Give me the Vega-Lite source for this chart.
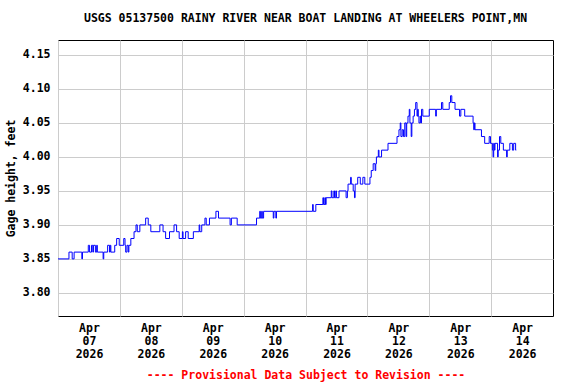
{
  "$schema": "https://vega.github.io/schema/vega-lite/v6.json",
  "width": 495,
  "height": 276,
  "autosize": {"type": "none"},
  "padding": {"left": 58, "top": 40, "right": 23, "bottom": 68},
  "background": "white",
  "config": {
    "font": "DejaVu Sans Mono",
    "view": {"stroke": "black", "strokeWidth": 1},
    "axis": {
      "labelFont": "DejaVu Sans Mono",
      "labelFontWeight": "bold",
      "labelFontSize": 11.5,
      "labelColor": "black",
      "titleFont": "DejaVu Sans Mono",
      "titleFontWeight": "bold",
      "titleFontSize": 11.5,
      "titleColor": "black",
      "gridColor": "#cccccc",
      "gridWidth": 1,
      "gridOpacity": 1,
      "domain": false,
      "ticks": false
    }
  },
  "title": {
    "text": "USGS 05137500 RAINY RIVER NEAR BOAT LANDING AT WHEELERS POINT,MN",
    "font": "DejaVu Sans Mono",
    "fontWeight": "bold",
    "fontSize": 11.5,
    "color": "black",
    "anchor": "middle",
    "offset": 16
  },
  "data": {
    "values": [
      {"t": "2026-04-07T00:00", "v": 3.85},
      {"t": "2026-04-07T04:15", "v": 3.86},
      {"t": "2026-04-07T05:30", "v": 3.85},
      {"t": "2026-04-07T06:15", "v": 3.86},
      {"t": "2026-04-07T09:15", "v": 3.85},
      {"t": "2026-04-07T09:30", "v": 3.86},
      {"t": "2026-04-07T11:45", "v": 3.87},
      {"t": "2026-04-07T12:15", "v": 3.86},
      {"t": "2026-04-07T13:00", "v": 3.87},
      {"t": "2026-04-07T13:30", "v": 3.86},
      {"t": "2026-04-07T13:45", "v": 3.87},
      {"t": "2026-04-07T14:30", "v": 3.86},
      {"t": "2026-04-07T15:00", "v": 3.87},
      {"t": "2026-04-07T15:15", "v": 3.86},
      {"t": "2026-04-07T17:30", "v": 3.85},
      {"t": "2026-04-07T17:45", "v": 3.86},
      {"t": "2026-04-07T19:15", "v": 3.87},
      {"t": "2026-04-07T20:00", "v": 3.86},
      {"t": "2026-04-07T20:15", "v": 3.87},
      {"t": "2026-04-07T20:30", "v": 3.86},
      {"t": "2026-04-07T22:00", "v": 3.87},
      {"t": "2026-04-07T22:45", "v": 3.88},
      {"t": "2026-04-07T23:45", "v": 3.87},
      {"t": "2026-04-08T01:30", "v": 3.88},
      {"t": "2026-04-08T02:00", "v": 3.87},
      {"t": "2026-04-08T02:15", "v": 3.86},
      {"t": "2026-04-08T02:45", "v": 3.87},
      {"t": "2026-04-08T03:15", "v": 3.86},
      {"t": "2026-04-08T03:30", "v": 3.87},
      {"t": "2026-04-08T04:15", "v": 3.88},
      {"t": "2026-04-08T05:30", "v": 3.89},
      {"t": "2026-04-08T06:15", "v": 3.90},
      {"t": "2026-04-08T06:45", "v": 3.89},
      {"t": "2026-04-08T07:45", "v": 3.90},
      {"t": "2026-04-08T10:00", "v": 3.91},
      {"t": "2026-04-08T11:00", "v": 3.90},
      {"t": "2026-04-08T12:00", "v": 3.89},
      {"t": "2026-04-08T15:30", "v": 3.90},
      {"t": "2026-04-08T16:45", "v": 3.89},
      {"t": "2026-04-08T17:45", "v": 3.88},
      {"t": "2026-04-08T19:15", "v": 3.89},
      {"t": "2026-04-08T21:00", "v": 3.90},
      {"t": "2026-04-08T22:00", "v": 3.89},
      {"t": "2026-04-08T23:00", "v": 3.88},
      {"t": "2026-04-09T00:15", "v": 3.89},
      {"t": "2026-04-09T00:30", "v": 3.88},
      {"t": "2026-04-09T01:30", "v": 3.89},
      {"t": "2026-04-09T02:30", "v": 3.88},
      {"t": "2026-04-09T04:30", "v": 3.89},
      {"t": "2026-04-09T06:45", "v": 3.90},
      {"t": "2026-04-09T07:00", "v": 3.89},
      {"t": "2026-04-09T07:45", "v": 3.90},
      {"t": "2026-04-09T09:00", "v": 3.91},
      {"t": "2026-04-09T09:30", "v": 3.90},
      {"t": "2026-04-09T10:45", "v": 3.91},
      {"t": "2026-04-09T13:15", "v": 3.92},
      {"t": "2026-04-09T14:15", "v": 3.91},
      {"t": "2026-04-09T18:45", "v": 3.90},
      {"t": "2026-04-09T19:15", "v": 3.91},
      {"t": "2026-04-09T21:30", "v": 3.90},
      {"t": "2026-04-10T05:00", "v": 3.91},
      {"t": "2026-04-10T06:15", "v": 3.92},
      {"t": "2026-04-10T06:30", "v": 3.91},
      {"t": "2026-04-10T07:00", "v": 3.92},
      {"t": "2026-04-10T07:15", "v": 3.91},
      {"t": "2026-04-10T07:45", "v": 3.92},
      {"t": "2026-04-10T11:30", "v": 3.91},
      {"t": "2026-04-10T11:45", "v": 3.92},
      {"t": "2026-04-10T12:30", "v": 3.91},
      {"t": "2026-04-10T12:45", "v": 3.92},
      {"t": "2026-04-11T02:45", "v": 3.93},
      {"t": "2026-04-11T03:00", "v": 3.92},
      {"t": "2026-04-11T04:00", "v": 3.93},
      {"t": "2026-04-11T06:45", "v": 3.94},
      {"t": "2026-04-11T07:00", "v": 3.93},
      {"t": "2026-04-11T07:30", "v": 3.94},
      {"t": "2026-04-11T07:45", "v": 3.93},
      {"t": "2026-04-11T08:00", "v": 3.94},
      {"t": "2026-04-11T10:00", "v": 3.95},
      {"t": "2026-04-11T10:15", "v": 3.94},
      {"t": "2026-04-11T11:00", "v": 3.95},
      {"t": "2026-04-11T11:15", "v": 3.94},
      {"t": "2026-04-11T11:45", "v": 3.95},
      {"t": "2026-04-11T12:00", "v": 3.94},
      {"t": "2026-04-11T13:00", "v": 3.95},
      {"t": "2026-04-11T15:45", "v": 3.94},
      {"t": "2026-04-11T16:15", "v": 3.95},
      {"t": "2026-04-11T16:30", "v": 3.96},
      {"t": "2026-04-11T17:30", "v": 3.97},
      {"t": "2026-04-11T17:45", "v": 3.96},
      {"t": "2026-04-11T18:30", "v": 3.95},
      {"t": "2026-04-11T19:00", "v": 3.94},
      {"t": "2026-04-11T19:15", "v": 3.96},
      {"t": "2026-04-11T20:15", "v": 3.97},
      {"t": "2026-04-11T21:15", "v": 3.96},
      {"t": "2026-04-11T22:15", "v": 3.97},
      {"t": "2026-04-11T23:00", "v": 3.96},
      {"t": "2026-04-12T01:00", "v": 3.97},
      {"t": "2026-04-12T01:30", "v": 3.98},
      {"t": "2026-04-12T02:15", "v": 3.99},
      {"t": "2026-04-12T03:00", "v": 3.98},
      {"t": "2026-04-12T03:15", "v": 3.99},
      {"t": "2026-04-12T03:30", "v": 4.00},
      {"t": "2026-04-12T04:15", "v": 4.01},
      {"t": "2026-04-12T04:30", "v": 4.00},
      {"t": "2026-04-12T05:30", "v": 4.01},
      {"t": "2026-04-12T08:00", "v": 4.02},
      {"t": "2026-04-12T11:30", "v": 4.03},
      {"t": "2026-04-12T12:15", "v": 4.04},
      {"t": "2026-04-12T12:45", "v": 4.05},
      {"t": "2026-04-12T13:00", "v": 4.03},
      {"t": "2026-04-12T13:30", "v": 4.04},
      {"t": "2026-04-12T14:00", "v": 4.03},
      {"t": "2026-04-12T14:30", "v": 4.05},
      {"t": "2026-04-12T15:00", "v": 4.03},
      {"t": "2026-04-12T15:15", "v": 4.05},
      {"t": "2026-04-12T15:45", "v": 4.06},
      {"t": "2026-04-12T16:15", "v": 4.07},
      {"t": "2026-04-12T16:30", "v": 4.05},
      {"t": "2026-04-12T17:00", "v": 4.03},
      {"t": "2026-04-12T17:15", "v": 4.05},
      {"t": "2026-04-12T17:45", "v": 4.06},
      {"t": "2026-04-12T18:15", "v": 4.07},
      {"t": "2026-04-12T18:45", "v": 4.08},
      {"t": "2026-04-12T19:15", "v": 4.06},
      {"t": "2026-04-12T19:30", "v": 4.07},
      {"t": "2026-04-12T19:45", "v": 4.06},
      {"t": "2026-04-12T20:00", "v": 4.05},
      {"t": "2026-04-12T20:30", "v": 4.06},
      {"t": "2026-04-12T20:45", "v": 4.05},
      {"t": "2026-04-12T21:00", "v": 4.07},
      {"t": "2026-04-12T21:30", "v": 4.06},
      {"t": "2026-04-13T00:00", "v": 4.07},
      {"t": "2026-04-13T02:30", "v": 4.06},
      {"t": "2026-04-13T02:45", "v": 4.07},
      {"t": "2026-04-13T04:45", "v": 4.08},
      {"t": "2026-04-13T05:15", "v": 4.07},
      {"t": "2026-04-13T07:45", "v": 4.08},
      {"t": "2026-04-13T08:15", "v": 4.09},
      {"t": "2026-04-13T08:45", "v": 4.08},
      {"t": "2026-04-13T10:00", "v": 4.07},
      {"t": "2026-04-13T11:45", "v": 4.06},
      {"t": "2026-04-13T12:15", "v": 4.07},
      {"t": "2026-04-13T13:45", "v": 4.06},
      {"t": "2026-04-13T17:00", "v": 4.05},
      {"t": "2026-04-13T17:15", "v": 4.04},
      {"t": "2026-04-13T17:30", "v": 4.05},
      {"t": "2026-04-13T17:45", "v": 4.04},
      {"t": "2026-04-13T20:15", "v": 4.03},
      {"t": "2026-04-13T21:30", "v": 4.02},
      {"t": "2026-04-13T23:15", "v": 4.03},
      {"t": "2026-04-13T23:45", "v": 4.02},
      {"t": "2026-04-14T00:30", "v": 4.01},
      {"t": "2026-04-14T00:45", "v": 4.00},
      {"t": "2026-04-14T01:00", "v": 4.02},
      {"t": "2026-04-14T01:15", "v": 4.01},
      {"t": "2026-04-14T01:30", "v": 4.02},
      {"t": "2026-04-14T02:30", "v": 4.00},
      {"t": "2026-04-14T02:45", "v": 4.01},
      {"t": "2026-04-14T03:15", "v": 4.03},
      {"t": "2026-04-14T03:45", "v": 4.02},
      {"t": "2026-04-14T04:45", "v": 4.01},
      {"t": "2026-04-14T06:00", "v": 4.00},
      {"t": "2026-04-14T06:15", "v": 4.01},
      {"t": "2026-04-14T07:15", "v": 4.02},
      {"t": "2026-04-14T08:15", "v": 4.01},
      {"t": "2026-04-14T08:45", "v": 4.02},
      {"t": "2026-04-14T09:30", "v": 4.01},
      {"t": "2026-04-14T09:45", "v": 4.01}
    ]
  },
  "mark": {"type": "line", "interpolate": "step-after", "color": "#0000ff", "strokeWidth": 1, "clip": true},
  "encoding": {
    "x": {
      "field": "t",
      "type": "temporal",
      "scale": {
        "domain": [
          {"year": 2026, "month": 4, "date": 7},
          {"year": 2026, "month": 4, "date": 15}
        ],
        "nice": false
      },
      "axis": {
        "values": [
          {"year": 2026, "month": 4, "date": 7},
          {"year": 2026, "month": 4, "date": 8},
          {"year": 2026, "month": 4, "date": 9},
          {"year": 2026, "month": 4, "date": 10},
          {"year": 2026, "month": 4, "date": 11},
          {"year": 2026, "month": 4, "date": 12},
          {"year": 2026, "month": 4, "date": 13},
          {"year": 2026, "month": 4, "date": 14}
        ],
        "grid": true,
        "labelOffset": 31,
        "labelFlush": false,
        "labelOverlap": false,
        "labelBound": false,
        "labelPadding": 6,
        "labelLineHeight": 13,
        "labelBaseline": "top",
        "labelExpr": "[timeFormat(datum.value, '%b'), timeFormat(datum.value, '%d'), timeFormat(datum.value, '%Y')]",
        "title": "---- Provisional Data Subject to Revision ----",
        "titleColor": "#ff0000",
        "titlePadding": 10
      }
    },
    "y": {
      "field": "v",
      "type": "quantitative",
      "scale": {"domain": [3.766, 4.172], "nice": false, "zero": false},
      "axis": {
        "values": [3.80, 3.85, 3.90, 3.95, 4.00, 4.05, 4.10, 4.15],
        "format": ".2f",
        "grid": true,
        "labelPadding": 8,
        "title": "Gage height, feet",
        "titlePadding": 6
      }
    }
  }
}
